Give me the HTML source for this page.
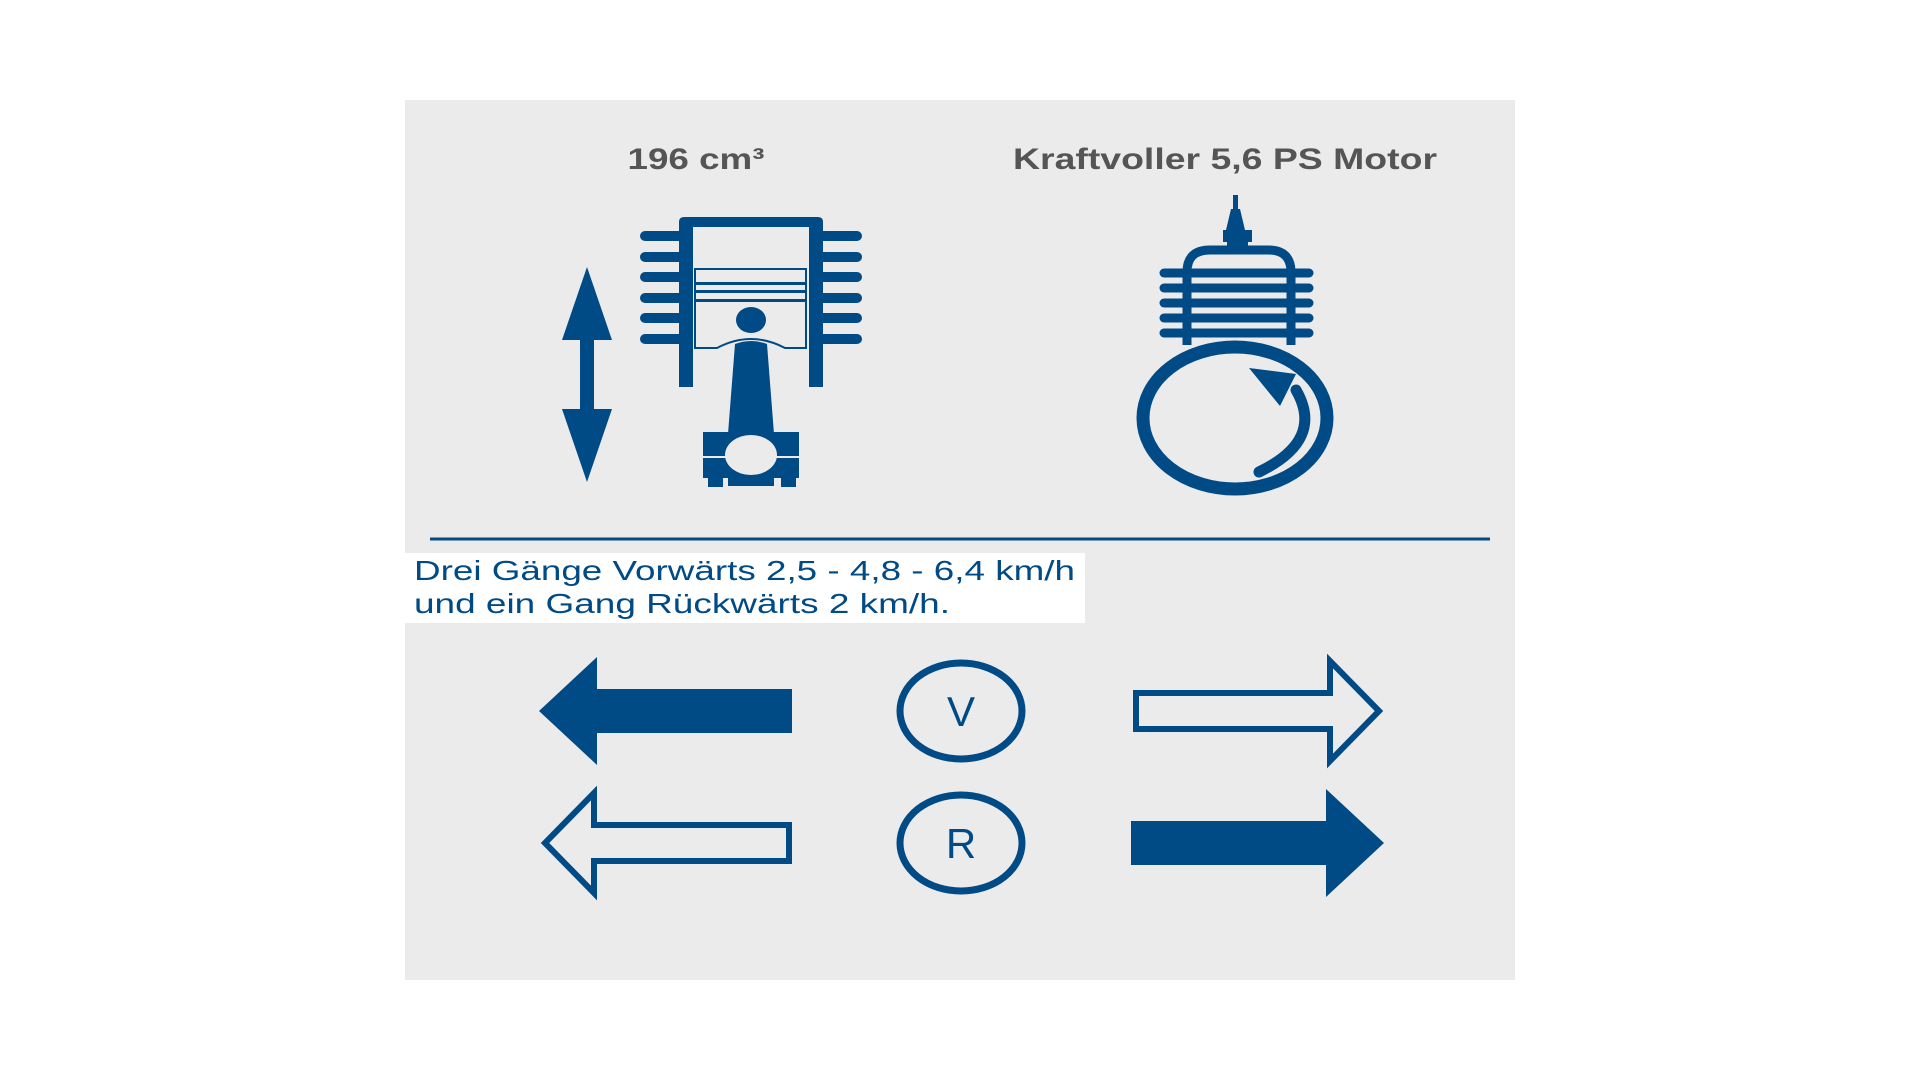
<!DOCTYPE html>
<html><head><meta charset="utf-8"><style>
html,body{margin:0;padding:0;background:#fff;width:1920px;height:1080px;overflow:hidden}
svg{display:block}
</style></head><body>
<svg width="1920" height="1080" viewBox="0 0 1920 1080" xmlns="http://www.w3.org/2000/svg" font-family="Liberation Sans, Arial, sans-serif">
<rect x="405" y="100" width="1110" height="880" fill="#ebebeb"/>
<g fill="#555" font-weight="bold" font-size="30" text-anchor="middle">
<text x="696" y="169" textLength="137" lengthAdjust="spacingAndGlyphs">196 cm³</text>
<text x="1225" y="169" textLength="424" lengthAdjust="spacingAndGlyphs">Kraftvoller 5,6 PS Motor</text>
</g>
<g fill="#004a86" stroke="none">
<polygon points="587,267 612,340 594,340 594,409 612,409 587,482 562,409 580,409 580,340 562,340"/>
<path d="M679,387 V222 Q679,217 684,217 H818 Q823,217 823,222 V387 H809 V227 H693 V387 Z"/>
<g stroke="#004a86" stroke-width="10" stroke-linecap="round">
<line x1="645" y1="236" x2="679" y2="236"/><line x1="645" y1="257" x2="679" y2="257"/><line x1="645" y1="277" x2="679" y2="277"/><line x1="645" y1="298" x2="679" y2="298"/><line x1="645" y1="318" x2="679" y2="318"/><line x1="645" y1="339" x2="679" y2="339"/>
<line x1="823" y1="236" x2="857" y2="236"/><line x1="823" y1="257" x2="857" y2="257"/><line x1="823" y1="277" x2="857" y2="277"/><line x1="823" y1="298" x2="857" y2="298"/><line x1="823" y1="318" x2="857" y2="318"/><line x1="823" y1="339" x2="857" y2="339"/>
</g>
<path d="M695,269 H806 V348 H785 Q751,330 717,348 H695 Z" fill="none" stroke="#004a86" stroke-width="2"/>
<rect x="695" y="282" width="111" height="3"/><rect x="695" y="290" width="111" height="3"/><rect x="695" y="299" width="111" height="3"/>
<ellipse cx="751" cy="320" rx="15" ry="13"/>
<path d="M735,344 Q751,338 767,344 L774,434 H728 Z"/>
<path d="M703,432 H799 V478 H703 Z M751,435 m-26,20 a26,20 0 1,0 52,0 a26,20 0 1,0 -52,0 Z" fill-rule="evenodd"/>
<rect x="703" y="456" width="96" height="2" fill="#ebebeb"/>
<rect x="708" y="478" width="15" height="9"/><rect x="728" y="478" width="46" height="8"/><rect x="781" y="478" width="15" height="9"/>
<rect x="1233" y="195" width="5" height="14"/>
<polygon points="1231,209 1240,209 1245,230 1226,230"/>
<rect x="1223" y="230" width="29" height="12"/>
<rect x="1227" y="242" width="21" height="10"/>
<path d="M1187,345 V272 Q1187,250 1210,250 H1268 Q1291,250 1291,272 V345" fill="none" stroke="#004a86" stroke-width="9"/>
<g stroke="#004a86" stroke-width="9" stroke-linecap="round">
<line x1="1164" y1="273" x2="1309" y2="273"/><line x1="1164" y1="288" x2="1309" y2="288"/><line x1="1164" y1="303" x2="1309" y2="303"/><line x1="1164" y1="318" x2="1309" y2="318"/><line x1="1164" y1="333" x2="1309" y2="333"/>
</g>
<ellipse cx="1235" cy="418" rx="92" ry="71" fill="none" stroke="#004a86" stroke-width="13"/>
<path d="M1259,472 Q1325,440 1296,390" fill="none" stroke="#004a86" stroke-width="11" stroke-linecap="round"/>
<polygon points="1249,368 1296,374 1280,406"/>
</g>
<line x1="430" y1="539" x2="1490" y2="539" stroke="#004a86" stroke-width="3"/>
<rect x="405" y="553" width="680" height="70" fill="#fff"/>
<g fill="#004a86" font-size="28">
<text x="414" y="580" textLength="661" lengthAdjust="spacingAndGlyphs">Drei Gänge Vorwärts 2,5 - 4,8 - 6,4 km/h</text>
<text x="414" y="613" textLength="536" lengthAdjust="spacingAndGlyphs">und ein Gang Rückwärts 2 km/h.</text>
</g>
<g fill="#004a86">
<polygon points="539,711 597,657 597,689 792,689 792,733 597,733 597,765"/>
<polygon points="1384,843 1326,789 1326,821 1131,821 1131,865 1326,865 1326,897"/>
</g>
<g fill="none" stroke="#004a86" stroke-width="6">
<polygon points="1379,711 1330,661 1330,693 1136,693 1136,729 1330,729 1330,761"/>
<polygon points="545,843 594,793 594,825 789,825 789,861 594,861 594,893"/>
<ellipse cx="961" cy="711" rx="61" ry="48" stroke-width="7"/>
<ellipse cx="961" cy="843" rx="61" ry="48" stroke-width="7"/>
</g>
<g fill="#004a86" font-size="42" text-anchor="middle">
<text x="961" y="726">V</text>
<text x="961" y="858">R</text>
</g>
</svg>
</body></html>
